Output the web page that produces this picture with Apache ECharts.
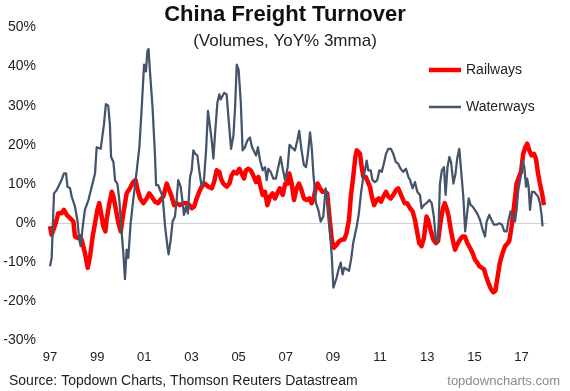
<!DOCTYPE html>
<html>
<head>
<meta charset="utf-8">
<script src="https://cdn.jsdelivr.net/npm/echarts@6/dist/echarts.min.js"></script>
<style>html,body{margin:0;padding:0;background:#fff}#c{width:570px;height:391px}</style>
</head>
<body>
<div id="c"></div>
<script>
const titleText = 'China Freight Turnover';
const subtitleText = '(Volumes, YoY% 3mma)';
const sourceText = 'Source: Topdown Charts, Thomson Reuters Datastream';
const siteText = 'topdowncharts.com';
const seriesNames = ['Railways', 'Waterways'];
const yTicks = [-30, -20, -10, 0, 10, 20, 30, 40, 50];
const xTickYears = [1997, 1999, 2001, 2003, 2005, 2007, 2009, 2011, 2013, 2015, 2017];

const railwaysYears = [1997.00,1997.07,1997.17,1997.28,1997.35,1997.49,1997.59,1997.71,1997.85,1997.99,
1998.06,1998.16,1998.27,1998.34,1998.48,1998.60,1998.70,1998.81,1998.91,1999.01,
1999.09,1999.19,1999.26,1999.35,1999.40,1999.52,1999.62,1999.69,1999.80,1999.90,
2000.00,2000.11,2000.25,2000.39,2000.53,2000.63,2000.70,2000.82,2000.96,2001.10,
2001.21,2001.31,2001.45,2001.59,2001.67,2001.81,2001.95,2002.06,2002.16,2002.26,
2002.37,2002.51,2002.66,2002.80,2002.91,2003.01,2003.11,2003.22,2003.33,2003.43,
2003.57,2003.71,2003.86,2003.96,2004.07,2004.18,2004.25,2004.35,2004.49,2004.61,
2004.70,2004.80,2004.92,2005.03,2005.13,2005.23,2005.31,2005.41,2005.51,2005.62,
2005.74,2005.84,2005.93,2006.02,2006.12,2006.22,2006.33,2006.44,2006.54,2006.64,
2006.75,2006.87,2006.98,2007.08,2007.15,2007.25,2007.35,2007.46,2007.56,2007.67,
2007.77,2007.89,2008.00,2008.10,2008.20,2008.28,2008.35,2008.45,2008.56,2008.66,
2008.76,2008.85,2008.95,2009.04,2009.16,2009.27,2009.38,2009.48,2009.58,2009.68,
2009.76,2009.86,2009.95,2010.01,2010.08,2010.15,2010.22,2010.29,2010.39,2010.47,
2010.57,2010.67,2010.75,2010.85,2010.94,2011.04,2011.14,2011.25,2011.35,2011.45,
2011.56,2011.67,2011.77,2011.92,2012.04,2012.15,2012.27,2012.38,2012.48,2012.58,
2012.66,2012.76,2012.86,2012.97,2013.04,2013.14,2013.26,2013.37,2013.46,2013.54,
2013.65,2013.74,2013.82,2013.91,2013.99,2014.08,2014.18,2014.27,2014.39,2014.50,
2014.60,2014.70,2014.81,2014.92,2015.02,2015.12,2015.21,2015.31,2015.41,2015.49,
2015.59,2015.69,2015.80,2015.89,2015.97,2016.08,2016.20,2016.30,2016.40,2016.48,
2016.58,2016.68,2016.79,2016.89,2016.98,2017.07,2017.16,2017.24,2017.33,2017.43,
2017.53,2017.61,2017.70,2017.78,2017.87,2017.95];
const railwaysValues = [-0.8,-3,-1.3,0.8,2.5,2.5,3.4,2.1,1.3,0.4,
-3.4,-3.8,-3.4,-4.2,-7.6,-11.4,-8.4,-3.4,0,3.4,
5.1,1.7,-0.8,-2.1,0.8,5.1,8,6.8,3.4,0,
-2.1,2.5,7.6,8.9,10.5,11,8.9,6.3,5.1,6.3,
7.6,6.8,5.5,5.1,5.9,6.8,10.1,8.4,6.8,4.6,
5.1,4.6,5.1,5.1,4.6,3.8,4.2,6.3,8,9.3,
10.1,9.3,8.9,10.5,13.5,13.1,11.4,10.1,9.3,10.1,
12.2,13.1,12.7,13.9,12.7,11.4,13.5,13.9,13.5,12.2,
10.5,11.8,9.3,7.2,8,4.6,6.8,7.6,6.3,7.6,
8.9,7.2,10.1,10.1,12.7,10.1,5.9,8.9,10.1,8.4,
6.3,5.9,6.3,5.1,6.8,9.3,10.1,8.9,8,8,
7.6,1.7,-4.2,-6.3,-5.5,-4.6,-4.2,-4.2,-2.5,0.8,
6.8,11.8,16.9,18.6,19,17.7,14.3,11.8,11.8,11.8,
9.3,6.3,4.6,5.9,6.3,5.5,6.8,8,6.8,6.3,
7.2,8.4,8.9,6.8,5.1,5.1,3.8,3,0.8,-2.5,
-5.1,-5.9,-3.8,1.7,0.8,-1.7,-4.2,-5.1,-4.6,-0.8,
3.4,5.1,3.8,1.7,-1.3,-4.2,-6.8,-5.5,-4.2,-3.4,
-3.4,-5.1,-6.3,-7.6,-9.3,-10.1,-11,-11.4,-11.8,-13.5,
-15.2,-16.7,-17.7,-17.3,-14.3,-10.1,-7.6,-5.9,-5.2,-4.6,
-0.8,4.2,10.1,11.8,13.1,17.7,19.4,20.3,18.6,17.3,
17.7,16.5,12.7,10.1,7.6,4.6];

const waterwaysYears = [1997.00,1997.07,1997.17,1997.28,1997.35,1997.49,1997.59,1997.68,1997.74,1997.85,
1997.92,1998.06,1998.16,1998.24,1998.30,1998.39,1998.48,1998.63,1998.77,1998.91,
1998.98,1999.05,1999.15,1999.23,1999.29,1999.37,1999.47,1999.54,1999.59,1999.69,
1999.76,1999.86,1999.94,2000.04,2000.11,2000.18,2000.25,2000.32,2000.42,2000.53,
2000.68,2000.79,2000.89,2000.99,2001.07,2001.13,2001.18,2001.24,2001.35,2001.45,
2001.50,2001.59,2001.67,2001.78,2001.88,2001.98,2002.03,2002.12,2002.20,2002.30,
2002.37,2002.44,2002.54,2002.63,2002.68,2002.77,2002.85,2002.94,2003.01,2003.08,
2003.16,2003.25,2003.33,2003.43,2003.53,2003.62,2003.70,2003.79,2003.86,2003.93,
2004.00,2004.10,2004.18,2004.24,2004.32,2004.39,2004.49,2004.58,2004.68,2004.78,
2004.85,2004.92,2005.00,2005.09,2005.17,2005.27,2005.37,2005.48,2005.57,2005.65,
2005.74,2005.82,2005.91,2006.02,2006.12,2006.19,2006.26,2006.36,2006.47,2006.58,
2006.68,2006.78,2006.87,2006.97,2007.08,2007.16,2007.25,2007.39,2007.49,2007.57,
2007.67,2007.77,2007.86,2007.94,2008.03,2008.10,2008.17,2008.28,2008.38,2008.48,
2008.59,2008.69,2008.76,2008.85,2008.95,2009.02,2009.09,2009.16,2009.24,2009.33,
2009.41,2009.48,2009.58,2009.68,2009.77,2009.86,2009.93,2010.01,2010.10,2010.19,
2010.29,2010.36,2010.43,2010.50,2010.60,2010.68,2010.78,2010.88,2010.97,2011.07,
2011.16,2011.25,2011.35,2011.46,2011.56,2011.67,2011.77,2011.87,2011.98,2012.10,
2012.20,2012.27,2012.38,2012.48,2012.58,2012.69,2012.76,2012.86,2012.97,2013.09,
2013.19,2013.28,2013.37,2013.46,2013.54,2013.62,2013.71,2013.78,2013.86,2013.94,
2014.01,2014.11,2014.20,2014.27,2014.36,2014.44,2014.53,2014.61,2014.67,2014.76,
2014.84,2014.93,2015.02,2015.12,2015.24,2015.35,2015.45,2015.52,2015.63,2015.73,
2015.83,2015.94,2016.06,2016.17,2016.27,2016.37,2016.45,2016.54,2016.61,2016.72,
2016.79,2016.86,2016.96,2017.05,2017.12,2017.19,2017.24,2017.30,2017.36,2017.44,
2017.53,2017.61,2017.70,2017.78,2017.85,2017.89];
const waterwaysValues = [-11,-8.9,7.6,8.4,8.9,11,12.7,12.7,9.3,8.9,
6.8,4.2,0.8,-4.2,-5.9,-0.8,3.4,5.9,9.3,12.7,
19.4,19,19,19.4,25.3,30.4,30,25.3,16.9,15.6,
11,10,5.9,-2.5,-7.6,-14.3,-6.8,-8.9,0,5.9,
13.5,19.4,29.5,40.5,38.8,43.9,44.5,38.8,29.5,17.7,
9.7,9.7,8.4,6.8,-0.8,-5.9,-8,-4.2,0.4,1.7,
5.9,11,9.3,5.1,2.1,4.2,2.5,11.8,13.5,18.6,
17.7,17.3,13.5,9.3,11,18.6,28.7,24.5,21.1,16.5,
22.8,30.8,32.9,31.6,32.1,33.3,32.9,26.2,19,22.4,
29.5,40.5,39.2,31.2,18.6,19.4,21.1,21.9,19.4,19.4,
17.3,19.4,16,13.5,14.3,11,13.9,13.1,11.4,11.4,
14.3,16.9,13.9,11,14.3,20,19.4,18.6,21.1,23.6,
18.6,14.8,14.3,17.7,23.2,19.4,12.7,5.1,3.4,0.4,
1.7,8.9,6.8,0,-8.4,-16.5,-16.9,-13.9,-11.8,-10.1,
-13.1,-11.4,-11.8,-12.2,-9.3,-5.1,-4.6,-0.8,2.5,7.6,
11.8,13.5,16,13.5,13.5,11,10.5,11,13.5,13.1,
15.2,17.7,19,19,17.7,15.6,15.2,13.9,13.1,13.9,
11.8,11,8.9,10.5,8,7.2,3.8,4.6,5.1,5.9,
5.1,1.7,-4.6,-4.6,10.1,13.5,14.3,7.2,14.3,16.9,
15.6,10.1,12.7,16.5,19,18.6,6.8,-2.1,-2.5,6.3,
4.6,4.2,3.4,2.5,0.8,-1.7,-3.4,0.4,2.1,0.8,
-0.4,-0.4,0,-0.4,-2.1,-2.1,0.8,3,2.5,0.4,
3.4,8.4,11.8,16,14.3,9.3,11.4,9.3,3.4,8,
8,8.4,6.8,5.1,2.1,-0.8];

const xMin = 1997, xMax = 2018.08;
const FONT = 'Arial, "Liberation Sans", sans-serif';
const zip = (xs, ys) => xs.map((x, i) => [x, ys[i]]);
const yy = v => String(Math.round(v) % 100).padStart(2, '0');

const chart = echarts.init(document.getElementById('c'), null, {renderer: 'canvas'});
chart.setOption({
  animation: false,
  backgroundColor: '#fff',
  textStyle: {fontFamily: FONT},
  title: [
    {text: titleText, left: 'center', top: -1, textStyle: {fontFamily: FONT, fontSize: 22, fontWeight: 'bold', color: '#111'}},
    {text: subtitleText, left: 'center', top: 28, textStyle: {fontFamily: FONT, fontSize: 17, fontWeight: 'normal', color: '#222'}},
    {text: sourceText, left: 4, top: 369, textStyle: {fontFamily: FONT, fontSize: 14, fontWeight: 'normal', color: '#222'}},
    {text: siteText, right: 5, top: 370, textStyle: {fontFamily: FONT, fontSize: 13, fontWeight: 'normal', color: '#8a8a8a'}}
  ],
  legend: [
    {data: [seriesNames[0]], left: 424, top: 58, icon: 'rect', itemWidth: 32, itemHeight: 4.5,
     textStyle: {fontFamily: FONT, fontSize: 14, color: '#222'}},
    {data: [seriesNames[1]], left: 424, top: 95, icon: 'rect', itemWidth: 32, itemHeight: 2.5,
     textStyle: {fontFamily: FONT, fontSize: 14, color: '#222'}}
  ],
  grid: {left: 50, right: 23, top: 27.5, bottom: 50.5, containLabel: false},
  xAxis: [
    {type: 'value', min: xMin, max: xMax, interval: 2,
     axisLine: {show: false, onZero: false}, axisTick: {show: false}, splitLine: {show: false},
     axisLabel: {fontFamily: FONT, fontSize: 13, color: '#222', margin: 10, showMaxLabel: false,
       formatter: v => xTickYears.includes(Math.round(v)) ? yy(v) : ''}},
    {type: 'value', min: xMin, max: xMax, interval: 2,
     axisLine: {show: true, onZero: true, lineStyle: {color: '#d0d0d0', width: 1}},
     axisTick: {show: false}, splitLine: {show: false}, axisLabel: {show: false}}
  ],
  yAxis: {type: 'value', min: yTicks[0], max: yTicks[yTicks.length - 1], interval: 10,
    axisLine: {show: false}, axisTick: {show: false}, splitLine: {show: false},
    axisLabel: {fontFamily: FONT, fontSize: 14, color: '#222', margin: 14, formatter: '{value}%'}},
  series: [
    {name: seriesNames[0], type: 'line', xAxisIndex: 0, data: zip(railwaysYears, railwaysValues),
     showSymbol: false, symbol: 'none', color: '#ff0000',
     lineStyle: {color: '#ff0000', width: 4.5, join: 'round'}},
    {name: seriesNames[1], type: 'line', xAxisIndex: 0, data: zip(waterwaysYears, waterwaysValues),
     showSymbol: false, symbol: 'none', color: '#44546a',
     lineStyle: {color: '#44546a', width: 2.25, join: 'round'}}
  ]
});
</script>
</body>
</html>
